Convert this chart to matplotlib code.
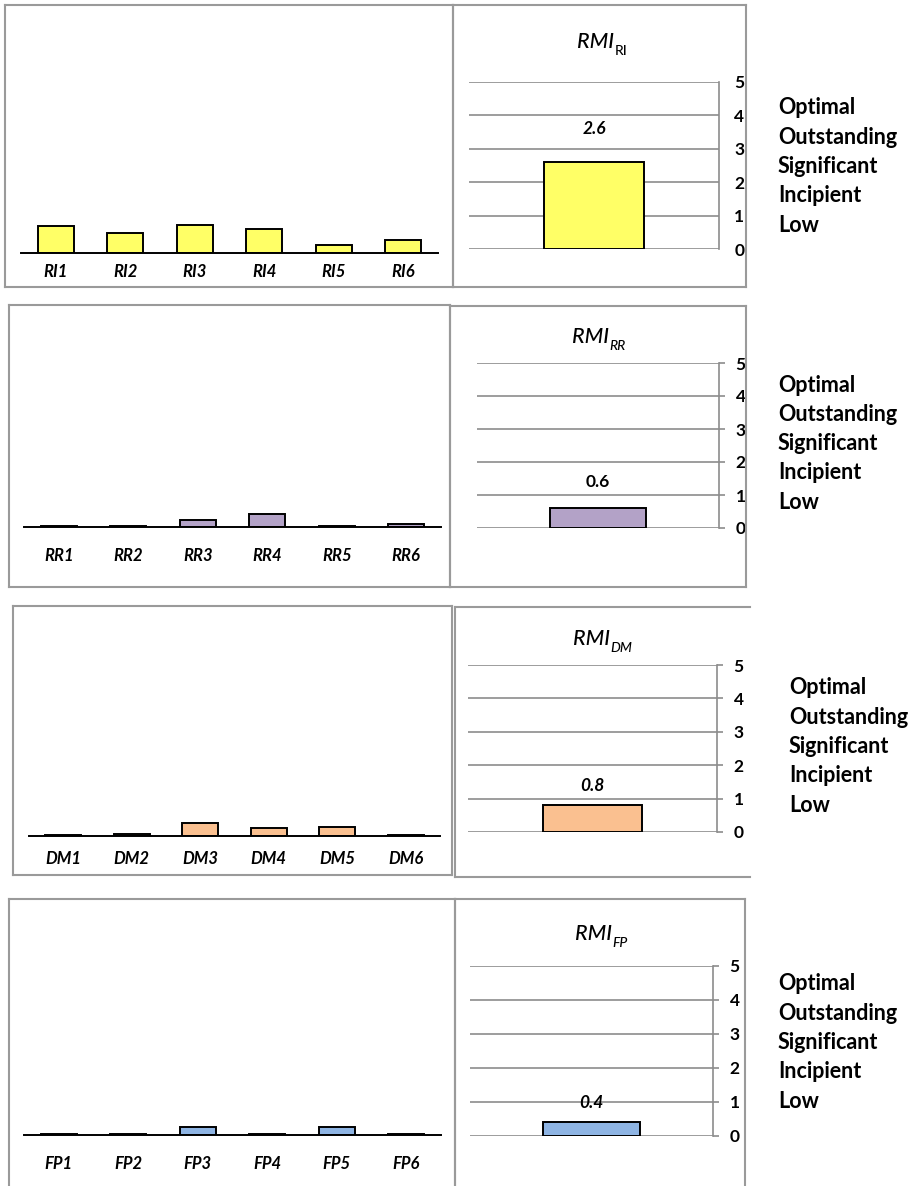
import matplotlib
matplotlib.use('Agg')
import matplotlib.pyplot as plt
from matplotlib.lines import Line2D

W, H = 921, 1186
plt.rcParams['font.family'] = ['Lato', 'DejaVu Sans']

# ---- data ----
ri_names = ['RI1', 'RI2', 'RI3', 'RI4', 'RI5', 'RI6']
ri_values = [0.56, 0.41, 0.58, 0.50, 0.17, 0.27]
rr_names = ['RR1', 'RR2', 'RR3', 'RR4', 'RR5', 'RR6']
rr_values = [0.03, 0.03, 0.14, 0.27, 0.03, 0.07]
dm_names = ['DM1', 'DM2', 'DM3', 'DM4', 'DM5', 'DM6']
dm_values = [0.03, 0.05, 0.26, 0.17, 0.19, 0.03]
fp_names = ['FP1', 'FP2', 'FP3', 'FP4', 'FP5', 'FP6']
fp_values = [0.03, 0.03, 0.17, 0.03, 0.16, 0.03]

rmi_subs = ['RI', 'RR', 'DM', 'FP']
rmi_values = [2.6, 0.6, 0.8, 0.4]
rmi_texts = ['2.6', '0.6', '0.8', '0.4']
bar_colors = ['#FFFF66', '#B3A2C7', '#FAC090', '#8EB4E3']
levels = ['Optimal', 'Outstanding', 'Significant', 'Incipient', 'Low']

indicators = [(ri_names, ri_values), (rr_names, rr_values),
              (dm_names, dm_values), (fp_names, fp_values)]

# ---- layout per row, in pixels ----
rows = [
    dict(lbox=(5, 5, 453, 287), rbox=(453, 5, 746, 287), rclosed=True,
         base=253, lx=(21, 438), pad=13, gx=(469, 719), y0=249, y5=82,
         title=(577, 48), val_off=33, lev=(778, 108), ticks=False,
         sub_it=False, val_it=True),
    dict(lbox=(9, 305, 450, 587), rbox=(450, 306, 746, 587), rclosed=True,
         base=527, lx=(24, 441), pad=23, gx=(477, 719), y0=528, y5=363,
         title=(572, 343), val_off=26, lev=(778, 385), ticks=True,
         sub_it=True, val_it=False),
    dict(lbox=(13, 606, 452, 875), rbox=(455, 607, 750, 877), rclosed=False,
         base=836, lx=(29, 440), pad=17, gx=(468, 717), y0=832, y5=665,
         title=(573, 645), val_off=19, lev=(789, 688), ticks=True,
         sub_it=True, val_it=True),
    dict(lbox=(9, 899, 455, 1200), rbox=(455, 899, 745, 1200), rclosed=True,
         base=1135, lx=(24, 441), pad=23, gx=(470, 713), y0=1136, y5=966,
         title=(575, 940), val_off=19, lev=(778, 984), ticks=True,
         sub_it=True, val_it=True),
]

box_color = '#9a9a9a'
grid_color = '#8c8c8c'
px_per_unit = 48.5  # left charts
left_ymax = 4


def fx(x):
    return x / W


def fy(y):
    return 1 - y / H


def add_box(fig, x0, y0, x1, y1, closed=True):
    segs = [((x0, x0), (y0, y1)), ((x0, x1), (y0, y0)), ((x0, x1), (y1, y1))]
    if closed:
        segs.append(((x1, x1), (y0, y1)))
    for xs, ys in segs:
        fig.add_artist(Line2D([fx(v) for v in xs], [fy(v) for v in ys],
                              color=box_color, lw=1.5))


fig = plt.figure(figsize=(W / 100, H / 100), dpi=100)

for i, row in enumerate(rows):
    names, values = indicators[i]
    color = bar_colors[i]

    add_box(fig, *row['lbox'])
    add_box(fig, *row['rbox'], closed=row['rclosed'])

    # left: individual indicators
    lx0, lx1 = row['lx']
    top = row['base'] - left_ymax * px_per_unit
    ax = fig.add_axes([fx(lx0), fy(row['base']), fx(lx1 - lx0),
                       (row['base'] - top) / H])
    ax.bar(range(len(values)), values, width=0.52, color=color,
           edgecolor='black', linewidth=1.4)
    ax.set_xlim(-0.5, len(values) - 0.5)
    ax.set_ylim(0, left_ymax)
    for s in ['left', 'top', 'right']:
        ax.spines[s].set_visible(False)
    ax.spines['bottom'].set_color('black')
    ax.spines['bottom'].set_linewidth(1.4)
    ax.set_yticks([])
    ax.set_xticks(range(len(names)))
    ax.set_xticklabels(names, fontsize=12, fontweight='bold', style='italic')
    ax.tick_params(axis='x', length=0, pad=(row['pad'] - 2) / 1.389)
    ax.patch.set_visible(False)

    # right: RMI summary
    gx0, gx1 = row['gx']
    rax = fig.add_axes([fx(gx0), fy(row['y0']), fx(gx1 - gx0),
                        (row['y0'] - row['y5']) / H])
    rax.bar([0], [rmi_values[i]], width=0.4, color=color,
            edgecolor='black', linewidth=1.4, zorder=3)
    rax.set_xlim(-0.5, 0.5)
    rax.set_ylim(0, 5)
    rax.set_xticks([])
    rax.set_yticks(range(6))
    rax.yaxis.tick_right()
    rax.yaxis.grid(True, color=grid_color, lw=1.2)
    rax.set_axisbelow(True)
    for s in ['left', 'top', 'bottom']:
        rax.spines[s].set_visible(False)
    rax.spines['right'].set_color(grid_color)
    rax.spines['right'].set_linewidth(1.2)
    rax.tick_params(axis='y', length=4 if row['ticks'] else 0, width=1.2,
                    color=grid_color, pad=8 if row['ticks'] else 11)
    for t in rax.get_yticklabels():
        t.set_fontsize(12.5)
        t.set_fontweight('bold')
    rax.patch.set_visible(False)

    rax.annotate(rmi_texts[i], xy=(0, rmi_values[i]),
                 xytext=(0, row['val_off'] / 1.389), textcoords='offset points',
                 ha='center', va='center', fontsize=12.5, fontweight='bold',
                 style='italic' if row['val_it'] else 'normal')

    # title RMI with subscript
    tx, ty = row['title']
    t = fig.text(fx(tx), fy(ty), 'RMI', fontsize=15.5, style='italic',
                 fontweight='medium', ha='left', va='baseline')
    plt.annotate(rmi_subs[i], xy=(1, 0.05), xycoords=t,
                 xytext=(0.5, 0), textcoords='offset points',
                 ha='left', va='center', fontsize=10,
                 style='italic' if row['sub_it'] else 'normal',
                 fontweight='medium', annotation_clip=False)

    # qualitative levels
    lvx, lvy = row['lev']
    for k, name in enumerate(levels):
        fig.text(fx(lvx), fy(lvy + k * 29.3), name, fontsize=15.5,
                 fontweight='bold', ha='left', va='center')

fig.savefig('out.png', dpi=100, facecolor='white')
